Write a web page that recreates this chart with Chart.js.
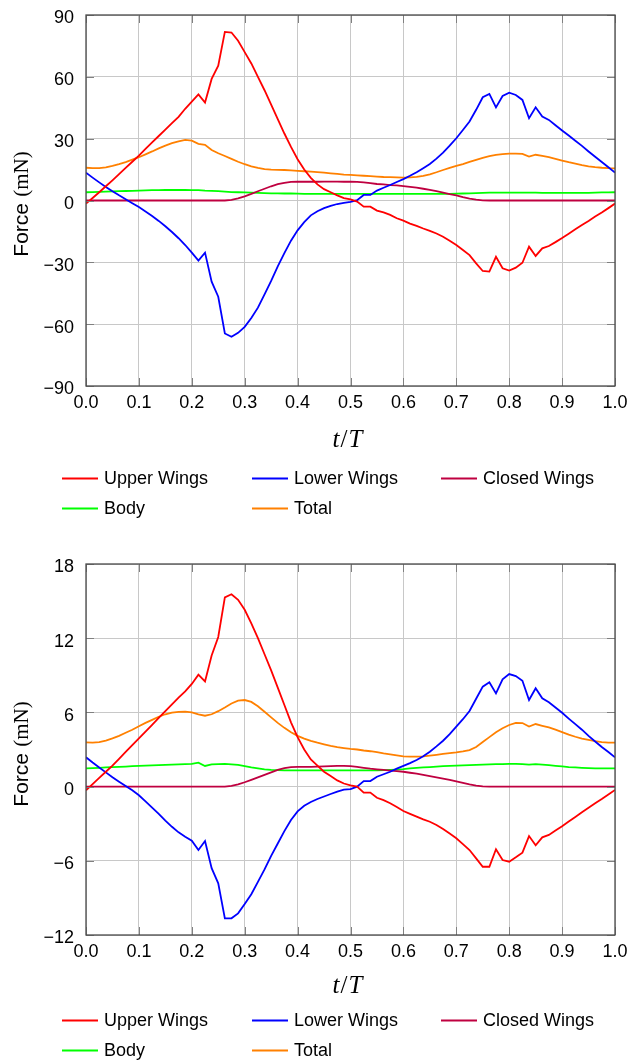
<!DOCTYPE html>
<html><head><meta charset="utf-8">
<script src="https://cdn.jsdelivr.net/npm/chart.js@4.4.0/dist/chart.umd.min.js"></script>
<style>
html,body{margin:0;padding:0;background:#fff;width:629px;height:1061px;overflow:hidden}
canvas{position:absolute;left:0}
</style></head><body>
<canvas id="c1" width="629" height="549" style="top:0px"></canvas>
<canvas id="c2" width="629" height="512" style="top:549px"></canvas>
<script>
// ---------- DATA ----------
const tValues = [0,0.0125,0.025,0.0375,0.05,0.0625,0.075,0.0875,0.1,0.1125,0.125,0.1375,0.15,0.1625,0.175,0.1875,0.2,0.2125,0.225,0.2375,0.25,0.2625,0.275,0.2875,0.3,0.3125,0.325,0.3375,0.35,0.3625,0.375,0.3875,0.4,0.4125,0.425,0.4375,0.45,0.4625,0.475,0.4875,0.5,0.5125,0.525,0.5375,0.55,0.5625,0.575,0.5875,0.6,0.6125,0.625,0.6375,0.65,0.6625,0.675,0.6875,0.7,0.7125,0.725,0.7375,0.75,0.7625,0.775,0.7875,0.8,0.8125,0.825,0.8375,0.85,0.8625,0.875,0.8875,0.9,0.9125,0.925,0.9375,0.95,0.9625,0.975,0.9875,1];

const seriesLabels = ['Upper Wings','Lower Wings','Closed Wings','Body','Total'];

// top chart
const upperTop = [-1.5,1.2,4.0,6.9,9.8,12.8,15.8,18.8,21.8,25,28.2,31.3,34.4,37.5,40.6,44.5,48,51.5,47.5,59,65.4,81.8,81.5,77.5,72,66.5,60,53.5,46.5,39.5,32.5,26,20,15,11,7.8,5.5,4,2.5,1.2,0.5,-0.5,-3,-3,-4.9,-5.8,-7,-8.6,-9.8,-11.2,-12.3,-13.6,-14.7,-16,-17.6,-19.5,-21.6,-24,-26.5,-30.5,-34.2,-34.5,-27.3,-32.9,-34,-32.6,-30.2,-22.4,-26.9,-23.2,-22.1,-20.2,-18.2,-16.1,-14,-11.9,-9.9,-7.8,-5.8,-3.7,-1.5];
const lowerTop = [13.5,11.1,8.8,6.6,4.5,2.5,0.6,-1.3,-3.2,-5.3,-7.5,-9.9,-12.5,-15.3,-18.3,-21.6,-25.3,-29.2,-25.3,-39.4,-46.7,-64.5,-66.1,-64.2,-61.3,-57,-52,-45.5,-39,-32,-25.5,-19.5,-14.5,-10.5,-7.2,-5.2,-3.7,-2.6,-1.7,-1.1,-0.7,0.2,2.7,2.7,4.8,6.2,7.5,9,10.4,12,13.7,15.7,17.7,20.3,23.2,26.6,30.2,34.2,38.3,44,50.1,51.7,45.2,50.7,52.3,51.2,48.8,39.9,45.2,40.7,39.1,36.5,34,31.5,29,26.5,23.8,21.2,18.7,16.1,13.5];
const closedTop = [0,0,0,0,0,0,0,0,0,0,0,0,0,0,0,0,0,0,0,0,0,0,0.3,1.0,2.0,3.2,4.5,5.7,6.9,7.9,8.6,9.0,9.1,9.1,9.1,9.1,9.2,9.2,9.2,9.1,9.1,9.0,8.8,8.4,8.0,7.8,7.5,7.3,7.0,6.6,6.2,5.7,5.1,4.5,3.8,3.1,2.5,1.6,0.9,0.4,0.05,0,0,0,0,0,0,0,0,0,0,0,0,0,0,0,0,0,0,0,0];
const bodyTop = [4.0,4.1,4.2,4.3,4.4,4.5,4.6,4.7,4.8,4.9,5.0,5.0,5.1,5.1,5.1,5.1,5.0,5.0,4.8,4.7,4.5,4.3,4.1,4.0,3.9,3.8,3.7,3.6,3.5,3.5,3.4,3.4,3.3,3.2,3.2,3.2,3.2,3.2,3.2,3.2,3.2,3.2,3.2,3.2,3.2,3.2,3.2,3.2,3.2,3.2,3.2,3.2,3.2,3.2,3.2,3.2,3.3,3.4,3.5,3.6,3.7,3.8,3.8,3.8,3.8,3.8,3.8,3.8,3.8,3.7,3.7,3.7,3.7,3.7,3.7,3.7,3.7,3.8,3.9,3.9,4.0];
const totalTop = [15.9,15.7,15.7,16.1,16.8,17.6,18.6,19.8,21.0,22.4,23.8,25.3,26.6,27.8,28.7,29.4,29.0,27.5,27.0,24.5,22.9,21.6,20.2,18.8,17.6,16.6,15.8,15.2,15.0,14.9,14.8,14.6,14.4,14.2,14.0,13.8,13.5,13.2,12.9,12.6,12.4,12.2,12.0,11.8,11.6,11.4,11.3,11.2,11.1,11.2,11.5,12.0,12.7,13.7,14.8,15.8,16.8,17.7,18.7,19.7,20.7,21.5,22.1,22.5,22.7,22.7,22.6,21.3,22.2,21.6,21.0,20.2,19.4,18.6,17.9,17.2,16.6,16.2,15.9,15.7,15.6];

// bottom chart
const upperBot = [-0.3,0.2,0.7,1.2,1.7,2.25,2.8,3.35,3.9,4.45,5.0,5.55,6.1,6.65,7.2,7.7,8.3,9.05,8.5,10.6,12.1,15.3,15.55,15.1,14.3,13.2,12.0,10.7,9.4,8.0,6.6,5.2,4.0,3.0,2.2,1.7,1.2,0.85,0.5,0.25,0.1,0.0,-0.49,-0.49,-0.9,-1.1,-1.35,-1.65,-1.97,-2.2,-2.43,-2.65,-2.84,-3.1,-3.43,-3.8,-4.18,-4.65,-5.13,-5.8,-6.48,-6.48,-5.07,-5.94,-6.07,-5.72,-5.34,-4.0,-4.75,-4.1,-3.91,-3.55,-3.2,-2.82,-2.45,-2.08,-1.72,-1.35,-1.0,-0.63,-0.27];
const lowerBot = [2.37,1.95,1.55,1.15,0.75,0.4,0.05,-0.3,-0.7,-1.2,-1.7,-2.2,-2.75,-3.25,-3.7,-4.05,-4.37,-5.13,-4.4,-6.6,-7.82,-10.65,-10.65,-10.25,-9.5,-8.7,-7.7,-6.7,-5.6,-4.6,-3.6,-2.7,-2.0,-1.55,-1.25,-1.0,-0.8,-0.6,-0.4,-0.25,-0.2,0.0,0.45,0.45,0.8,1.0,1.2,1.45,1.67,1.9,2.15,2.45,2.82,3.25,3.71,4.25,4.85,5.45,6.11,7.1,8.08,8.43,7.54,8.67,9.1,8.94,8.56,7.0,7.95,7.14,6.82,6.4,5.97,5.5,5.05,4.6,4.1,3.65,3.2,2.8,2.37];
const closedBot = [0,0,0,0,0,0,0,0,0,0,0,0,0,0,0,0,0,0,0,0,0,0,0.05,0.18,0.35,0.55,0.75,0.95,1.15,1.35,1.5,1.58,1.6,1.6,1.6,1.62,1.63,1.65,1.67,1.67,1.65,1.6,1.52,1.45,1.4,1.35,1.3,1.25,1.2,1.12,1.05,0.95,0.85,0.75,0.65,0.55,0.42,0.3,0.18,0.08,0.02,0,0,0,0,0,0,0,0,0,0,0,0,0,0,0,0,0,0,0,0];
const bodyBot = [1.48,1.5,1.52,1.55,1.57,1.6,1.62,1.65,1.68,1.7,1.72,1.74,1.76,1.78,1.8,1.81,1.83,1.93,1.67,1.8,1.82,1.83,1.8,1.75,1.65,1.55,1.47,1.4,1.36,1.34,1.32,1.32,1.32,1.32,1.32,1.32,1.32,1.32,1.32,1.32,1.32,1.32,1.32,1.32,1.32,1.33,1.35,1.38,1.42,1.48,1.52,1.55,1.58,1.62,1.65,1.68,1.7,1.72,1.74,1.76,1.78,1.8,1.81,1.82,1.83,1.83,1.82,1.78,1.82,1.78,1.73,1.68,1.63,1.58,1.55,1.52,1.5,1.48,1.48,1.48,1.48];
const totalBot = [3.58,3.56,3.6,3.72,3.9,4.1,4.35,4.6,4.88,5.15,5.4,5.65,5.85,5.98,6.05,6.07,6.0,5.85,5.73,5.85,6.1,6.4,6.72,6.95,7.0,6.85,6.5,6.05,5.6,5.15,4.75,4.4,4.1,3.88,3.7,3.55,3.42,3.3,3.2,3.12,3.05,3.0,2.92,2.86,2.78,2.68,2.6,2.52,2.45,2.42,2.42,2.44,2.5,2.57,2.64,2.7,2.76,2.84,2.95,3.2,3.6,4.0,4.4,4.72,4.98,5.15,5.14,4.85,5.06,4.92,4.78,4.6,4.4,4.2,4.03,3.88,3.77,3.67,3.6,3.56,3.55];

const xTicks = [0,0.1,0.2,0.3,0.4,0.5,0.6,0.7,0.8,0.9,1.0];
const yTicksTop = [-90,-60,-30,0,30,60,90];
const yTicksBot = [-12,-6,0,6,12,18];

// ---------- STYLE ----------
const colors = ['#ff0000','#0000ff','#bf0040','#00ff00','#ff8000'];
const SANS = "'Liberation Sans', Arial, Helvetica, sans-serif";
const SERIF = "'Liberation Serif', 'Times New Roman', serif";

function fmtY(v){ return v < 0 ? '\u2212' + Math.abs(v) : String(v); }

function decorPlugin(cfg){
  return {
    id: 'decor',
    afterDatasetsDraw(chart){
      const {ctx, chartArea:a, scales:{x, y}} = chart;
      ctx.save();
      ctx.strokeStyle = '#808080';
      ctx.lineWidth = 1;
      const L = 8;
      ctx.beginPath();
      x.ticks.forEach(tk => {
        const px = Math.round(x.getPixelForValue(tk.value)) + 0.5;
        ctx.moveTo(px, a.top); ctx.lineTo(px, a.top + L);
        ctx.moveTo(px, a.bottom); ctx.lineTo(px, a.bottom - L);
      });
      y.ticks.forEach(tk => {
        const py = Math.round(y.getPixelForValue(tk.value)) + 0.5;
        ctx.moveTo(a.left, py); ctx.lineTo(a.left + L, py);
        ctx.moveTo(a.right, py); ctx.lineTo(a.right - L, py);
      });
      ctx.stroke();
      ctx.strokeStyle = '#4a4a4a';
      ctx.lineWidth = 1.3;
      ctx.strokeRect(a.left, a.top, a.right - a.left, a.bottom - a.top);
      ctx.restore();
    },
    afterDraw(chart){
      const {ctx, chartArea:a} = chart;
      ctx.save();
      ctx.fillStyle = '#000';
      // y-axis title: "Force (mN)"
      const cy = cfg.yTitleY;
      ctx.translate(28, cy);
      ctx.rotate(-Math.PI/2);
      ctx.textBaseline = 'alphabetic';
      ctx.textAlign = 'left';
      const f1 = '21px ' + SANS, f2 = '21px ' + SERIF;
      ctx.font = f1; const w1 = ctx.measureText('Force\u2009').width;
      ctx.font = f2; const w2 = ctx.measureText('(mN)').width;
      const x0 = -(w1 + w2)/2;
      ctx.font = f1; ctx.fillText('Force', x0, 0);
      ctx.font = f2; ctx.fillText('(mN)', x0 + w1 + 2, 0);
      ctx.restore();

      // x-axis title t/T
      ctx.save();
      ctx.fillStyle = '#000';
      ctx.textBaseline = 'alphabetic';
      ctx.textAlign = 'left';
      const fi = 'italic 25px ' + SERIF, fn = '25px ' + SERIF;
      ctx.font = fi; const wt = ctx.measureText('t').width, wT = ctx.measureText('T').width;
      ctx.font = fn; const ws = ctx.measureText('/').width;
      const tot = wt + ws + wT + 2;
      let xx = (a.left + a.right)/2 - 3 - tot/2;
      const by = cfg.xTitleBase;
      ctx.font = fi; ctx.fillText('t', xx, by); xx += wt + 1;
      ctx.font = fn; ctx.fillText('/', xx, by); xx += ws + 1;
      ctx.font = fi; ctx.fillText('T', xx, by);
      ctx.restore();

      // legend
      ctx.save();
      const cols = [62, 252, 441];
      ctx.font = '18px ' + SANS;
      ctx.textBaseline = 'middle';
      ctx.textAlign = 'left';
      chart.data.datasets.forEach((ds, i) => {
        const col = i % 3, row = Math.floor(i / 3);
        const lx = cols[col], ly = cfg.legendRows[row];
        ctx.strokeStyle = ds.borderColor;
        ctx.lineWidth = 1.8;
        ctx.beginPath(); ctx.moveTo(lx, ly + 0.5); ctx.lineTo(lx + 36, ly + 0.5); ctx.stroke();
        ctx.fillStyle = '#000';
        ctx.fillText(ds.label, lx + 42, ly + 1);
      });
      ctx.restore();
    }
  };
}

function makeChart(id, height, series, yTicks, cfg){
  const datasets = series.map((arr, i) => ({
    label: seriesLabels[i],
    data: tValues.map((tv, k) => ({x: tv, y: arr[k]})),
    borderColor: colors[i],
    backgroundColor: colors[i],
    borderWidth: 1.8,
    pointRadius: 0,
    tension: 0,
    fill: false
  }));
  return new Chart(document.getElementById(id), {
    type: 'line',
    data: { datasets },
    options: {
      responsive: false,
      animation: false,
      devicePixelRatio: 1,
      layout: { padding: { top: 15, right: 14, left: 0, bottom: 0 } },
      plugins: { legend: { display: false }, tooltip: { enabled: false } },
      scales: {
        x: {
          type: 'linear',
          min: 0, max: 1,
          afterFit: s => { s.height = height - 386; s.paddingLeft = 0; s.paddingRight = 0; },
          afterBuildTicks: s => { s.ticks = xTicks.map(v => ({value: v})); },
          grid: { color: '#c8c8c8', lineWidth: 1, drawTicks: false },
          border: { display: false },
          ticks: {
            padding: 6,
            color: '#000',
            font: { family: SANS, size: 18 },
            maxRotation: 0,
            autoSkip: false,
            callback: v => Number(v).toFixed(1)
          }
        },
        y: {
          type: 'linear',
          min: yTicks[0], max: yTicks[yTicks.length - 1],
          afterFit: s => { s.width = 86; s.paddingTop = 0; s.paddingBottom = 0; },
          afterBuildTicks: s => { s.ticks = yTicks.map(v => ({value: v})); },
          grid: { color: '#c8c8c8', lineWidth: 1, drawTicks: false },
          border: { display: false },
          ticks: {
            padding: 12,
            labelOffset: 3.5,
            color: '#000',
            font: { family: SANS, size: 18 },
            autoSkip: false,
            callback: v => fmtY(v)
          }
        }
      }
    },
    plugins: [decorPlugin(cfg)]
  });
}

makeChart('c1', 549, [upperTop, lowerTop, closedTop, bodyTop, totalTop], yTicksTop,
  { yTitleY: 205, xTitleBase: 447, legendRows: [478, 508] });
makeChart('c2', 512, [upperBot, lowerBot, closedBot, bodyBot, totalBot], yTicksBot,
  { yTitleY: 206, xTitleBase: 444, legendRows: [471, 501] });
</script>
</body></html>
